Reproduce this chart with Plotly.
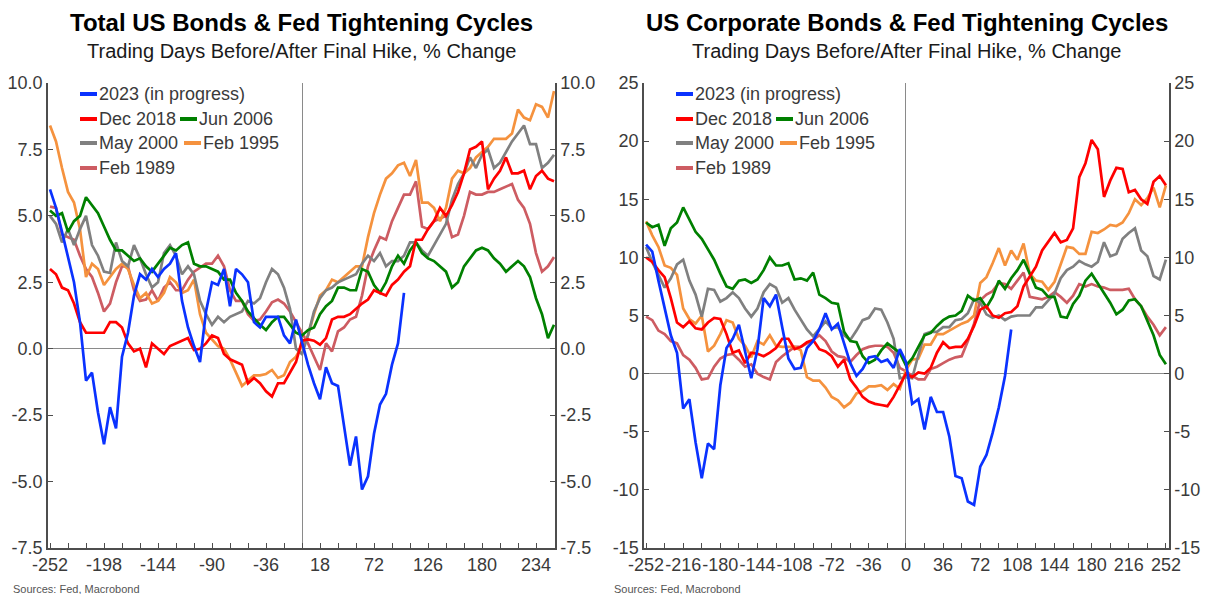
import plotly.graph_objects as go

# ---------------- data ----------------
DAYS = list(range(-252, 253, 6))  # trading days relative to final hike

SERIES_NAMES = ["2023 (in progress)", "Dec 2018", "Jun 2006", "May 2000", "Feb 1995", "Feb 1989"]
SERIES_COLORS = ["#0a32ff", "#ff0000", "#008000", "#808080", "#f5923e", "#cd5c62"]

# Total US Bonds, % change
TOTAL_2023 = [6.0, 5.3, 4.4, 3.4, 2.5, 1.0, -1.2, -0.9, -2.4, -3.6, -2.2, -3.0, -0.3, 0.6, 2.0, 2.8, 2.6, 3.0, 2.7, 3.0,
              3.2, 3.6, 1.8, 0.8, 0.1, -0.5, 1.4, 2.5, 2.4, 3.0, 1.6, 3.0, 2.8, 2.5, 1.0, 0.8, 1.2, 1.2, 1.2, 0.5,
              0.2, 1.1, 0.2, -0.6, -1.3, -1.9, -0.7, -1.3, -1.4, -2.9, -4.4, -3.3, -5.3, -4.8, -3.2, -2.1, -1.7, -0.6,
              0.2, 2.1]
TOTAL_2018 = [3.0, 2.8, 2.3, 2.2, 1.7, 1.0, 0.6, 0.6, 0.6, 0.6, 1.0, 1.0, 0.8, 0.2, -0.1, 0.0, -0.7, 0.2, 0.0, -0.2,
              0.1, 0.2, 0.3, 0.4, -0.05, 0.0, 0.2, 0.5, 0.4, -0.2, -0.4, -0.5, -0.6, -1.3, -1.1, -1.3, -1.6, -1.8, -1.3,
              -1.3, -0.9, -0.5, 0.3, 0.35, 0.3, 0.15, 0.4, 1.1, 1.2, 1.2, 1.3, 1.5, 1.7, 1.85, 2.2, 2.1, 2.0, 2.4, 2.6,
              2.9, 3.1, 4.1, 4.1, 4.5, 4.8, 5.3, 5.0, 5.4, 5.9, 6.6, 7.5, 7.6, 7.8, 6.0, 6.4, 6.7, 7.2, 6.6, 6.6, 6.7,
              6.0, 6.5, 6.7, 6.4, 6.3]
TOTAL_2006 = [5.2, 5.0, 5.1, 4.4, 4.8, 5.0, 5.7, 5.4, 5.1, 4.6, 4.1, 3.7, 3.7, 3.5, 3.3, 3.4, 3.1, 2.9, 3.2, 3.5,
              3.8, 3.7, 3.9, 4.0, 3.2, 3.1, 3.1, 3.0, 2.9, 2.6, 2.6, 2.1, 1.8, 1.4, 1.15, 0.9, 0.7, 1.0, 1.2, 1.2,
              0.9, 0.6, 0.5, 0.7, 0.8, 1.3, 1.6, 1.8, 2.3, 2.3, 2.2, 2.2, 3.0, 2.9, 2.4, 2.1, 2.5, 3.1, 3.5, 3.2,
              3.7, 4.0, 3.6, 3.4, 3.3, 3.1, 2.9, 2.3, 2.5, 3.1, 3.4, 3.7, 3.8, 3.7, 3.4, 3.2, 2.9, 3.1, 3.3, 3.1,
              2.7, 1.9, 1.3, 0.4, 0.9]
TOTAL_2000 = [5.0, 4.7, 4.0, 4.5, 3.9, 4.5, 5.0, 3.9, 3.5, 2.9, 2.85, 4.0, 3.3, 3.1, 3.9, 3.4, 2.8, 2.3, 2.5, 3.6,
              3.9, 3.5, 2.8, 3.1, 2.8, 1.8, 1.3, 0.9, 1.2, 1.0, 1.2, 1.3, 1.4, 1.8, 1.7, 1.9, 2.5, 3.0, 2.8, 2.3,
              1.5, 0.0, -0.2, 0.5, 1.4, 1.9, 2.2, 2.3, 2.5, 2.6, 2.7, 2.8, 3.2, 3.5, 3.3, 3.6, 3.1, 3.3, 3.3, 3.5,
              4.0, 4.0, 3.7, 3.5, 3.9, 4.3, 4.7, 5.6, 6.2, 6.6, 7.2, 6.8, 7.3, 7.5, 6.8, 7.0, 7.4, 7.8, 8.1, 8.4,
              7.7, 7.7, 6.8, 7.0, 7.3]
TOTAL_1995 = [8.4, 7.8, 6.8, 5.9, 5.5, 4.5, 2.7, 3.2, 3.0, 2.4, 2.7, 3.0, 3.2, 3.0, 2.4, 1.9, 2.1, 1.7, 1.8, 2.1,
              2.7, 2.5, 2.1, 2.2, 2.6, 1.3, 0.6, 0.35, 0.1, 0.0, -0.4, -0.9, -1.4, -1.2, -1.0, -1.0, -0.95, -0.8, -1.1,
              -1.0, -0.5, -0.3, 0.1, 0.5, 1.3, 2.0, 2.2, 2.6, 2.5, 2.7, 2.9, 3.1, 3.1, 4.2, 5.1, 5.8, 6.4, 6.6, 6.9,
              7.0, 6.5, 7.1, 5.5, 5.5, 5.3, 4.8, 5.3, 6.4, 6.7, 6.6, 6.8, 7.2, 7.4, 7.6, 7.9, 7.9, 7.9, 8.1, 9.0,
              8.7, 8.6, 9.2, 9.1, 8.7, 9.7]
TOTAL_1989 = [5.35, 5.3, 4.3, 4.2, 4.1, 3.5, 3.0, 2.7, 2.1, 1.4, 1.7, 2.5, 3.1, 3.1, 2.2, 1.8, 1.85, 2.2, 1.8, 2.3,
              2.5, 2.2, 2.2, 2.6, 2.9, 3.05, 3.2, 3.2, 3.5, 3.1, 2.2, 1.8, 1.8, 1.3, 1.05, 1.1, 1.4, 1.75, 1.85, 1.7,
              1.4, 1.0, 0.6, 0.2, -0.3, -0.8, 0.2, -0.1, 0.65, 0.8, 1.1, 1.2, 2.0, 3.1, 3.7, 4.2, 4.1, 4.8, 5.3, 5.8,
              5.8, 6.3, 4.6, 4.5, 4.8, 4.9, 5.0, 4.2, 4.3, 5.0, 5.9, 5.8, 5.8, 5.9, 5.9, 6.0, 6.1, 6.2, 5.6, 5.3,
              4.7, 3.6, 2.9, 3.1, 3.45]

# US Corporate Bonds, % change
CORP_2023 = [11.1, 10.5, 8.0, 5.6, 3.3, 1.8, -3.0, -2.2, -5.9, -9.0, -6.0, -6.5, -1.0, 2.2, 3.0, 4.2, 2.0, -0.4, 2.1, 6.5,
             5.8, 6.8, 4.0, 1.3, 0.4, 0.5, 2.2, 2.8, 3.8, 5.2, 3.8, 4.3, 2.6, 0.9, -0.2, 0.4, 1.4, 1.5, 1.0, 1.2,
             0.5, 2.1, 1.0, -2.6, -2.2, -4.8, -2.0, -3.3, -3.3, -5.4, -8.8, -9.0, -11.0, -11.3, -8.0, -7.0, -5.1, -2.9,
             -0.2, 3.8]
CORP_2018 = [10.0, 9.6, 8.9, 8.3, 6.5, 4.4, 4.0, 4.5, 3.9, 3.8, 4.4, 4.8, 4.7, 3.4, 1.8, 2.0, 0.9, 1.8, 1.7, 1.5,
             1.8, 2.2, 3.0, 3.0, 2.1, 2.3, 2.7, 2.9, 2.1, 1.9, 1.5, 0.6, 1.2, -0.5, -1.2, -2.0, -2.4, -2.6, -2.7, -2.8,
             -2.0, -1.0, 0.0, -0.3, 0.1, 0.0, 0.5, 1.8, 2.7, 2.2, 2.3, 2.3, 3.0, 4.1, 5.5, 5.8, 5.0, 4.8, 5.2, 5.3,
             5.8, 7.5, 8.4, 9.2, 10.6, 11.3, 12.1, 11.3, 11.5, 12.5, 16.9, 18.1, 20.1, 19.3, 15.2, 16.6, 17.7, 17.6,
             15.6, 15.8, 15.0, 14.6, 16.5, 17.0, 16.2]
CORP_2006 = [13.0, 12.6, 12.8, 11.0, 12.5, 13.0, 14.3, 13.2, 12.2, 11.6, 10.7, 9.8, 8.6, 7.5, 7.3, 8.0, 8.1, 7.8, 8.1, 8.9,
             10.0, 9.3, 9.3, 9.5, 8.1, 8.2, 8.0, 8.7, 6.8, 6.5, 6.1, 6.0, 3.6, 2.8, 2.7, 1.5, 0.9, 1.2, 2.0, 2.6,
             2.2, 1.8, 0.7, 1.3, 2.3, 3.3, 3.5, 4.1, 4.6, 4.9, 5.0, 5.4, 6.7, 6.3, 6.5, 5.7, 6.6, 8.0, 7.3, 8.2,
             8.9, 9.8, 8.6, 7.4, 7.2, 6.6, 6.6, 4.9, 4.8, 6.0, 6.7, 8.0, 8.6, 7.8, 7.0, 6.1, 5.1, 5.5, 6.3, 6.4,
             5.8, 4.6, 3.3, 1.6, 0.8]
CORP_2000 = [10.9, 9.6, 8.5, 7.4, 8.2, 9.4, 9.8, 8.0, 6.8, 4.9, 7.3, 7.2, 6.2, 6.5, 7.0, 6.5, 5.6, 4.9, 5.6, 7.0,
             7.7, 7.4, 6.1, 6.5, 5.5, 4.7, 3.8, 3.2, 3.9, 4.5, 3.9, 4.0, 3.3, 2.9, 3.7, 4.6, 4.8, 5.6, 5.5, 4.4,
             3.0, -0.4, -0.3, -0.4, 1.6, 3.4, 3.6, 3.6, 4.0, 4.0, 4.6, 4.7, 5.2, 6.4, 6.1, 5.1, 4.8, 5.0, 4.6, 4.9,
             5.0, 5.0, 5.0, 5.7, 5.7, 6.3, 6.9, 8.2, 8.9, 9.2, 9.7, 9.4, 9.2, 9.6, 11.3, 10.1, 10.3, 11.6, 12.1, 12.5,
             10.6, 10.1, 8.4, 8.1, 9.8]
CORP_1995 = [13.1, 11.9, 10.9, 9.3, 9.1, 8.5, 5.6, 4.7, 4.3, 5.0, 1.9, 2.4, 3.4, 4.6, 4.4, 3.0, 2.4, 1.4, 2.8, 2.5,
             3.3, 2.4, 2.3, 2.3, 2.3, 2.0, -0.3, -0.6, -0.6, -1.2, -2.0, -2.3, -2.9, -2.5, -1.7, -1.5, -1.1, -1.1, -1.0,
             -1.4, -0.9, -1.3, 0.3, 1.2, 1.3, 2.5, 2.5, 3.4, 3.4, 3.7, 4.0, 4.3, 4.5, 5.0, 7.8, 8.3, 9.5, 10.8, 9.3,
             10.6, 9.8, 11.2, 8.6, 8.0, 7.9, 7.2, 7.9, 9.5, 10.9, 10.8, 10.3, 10.3, 12.2, 12.1, 12.4, 12.8, 12.7, 13.0,
             13.8, 15.0, 14.5, 15.1, 16.0, 14.3, 16.2]
CORP_1989 = [4.9, 4.6, 3.7, 3.4, 2.8, 2.6, 1.6, 1.2, 0.5, -0.5, -0.4, 0.6, 1.3, 1.6, 1.7, 1.2, 0.6, 0.8, 0.0, -0.3,
             -0.5, 1.0, 1.5, 1.9, 2.3, 2.3, 2.6, 2.9, 3.3, 2.8, 1.9, 1.5, 1.4, 1.0, 1.6, 2.1, 2.3, 2.4, 2.4, 2.3,
             1.8, 0.5, 0.2, -0.2, -0.5, -0.5, 0.4, 0.6, 0.9, 1.2, 1.4, 1.5, 2.8, 4.3, 6.3, 6.8, 7.1, 7.8, 7.7, 7.3,
             8.0, 8.7, 6.6, 6.5, 6.4, 6.6, 7.0, 6.6, 6.1, 6.7, 7.7, 7.5, 7.7, 7.5, 7.4, 7.2, 7.2, 7.2, 7.3, 6.4,
             5.8, 4.9, 4.2, 3.3, 4.0]

TOTAL_SERIES = [TOTAL_2023, TOTAL_2018, TOTAL_2006, TOTAL_2000, TOTAL_1995, TOTAL_1989]
CORP_SERIES = [CORP_2023, CORP_2018, CORP_2006, CORP_2000, CORP_1995, CORP_1989]

# axis ticks / labels
LEFT_X_TICKS = [-252, -198, -144, -90, -36, 18, 72, 126, 180, 234]
LEFT_X_LABELS = ["-252", "-198", "-144", "-90", "-36", "18", "72", "126", "180", "234"]
RIGHT_X_TICKS = [-252, -216, -180, -144, -108, -72, -36, 0, 36, 72, 108, 144, 180, 216, 252]
RIGHT_X_LABELS = ["-252", "-216", "-180", "-144", "-108", "-72", "-36", "0", "36", "72", "108", "144", "180", "216", "252"]
MINOR_X_TICKS = list(range(-252, 253, 18))
LEFT_Y_TICKS = [-7.5, -5.0, -2.5, 0.0, 2.5, 5.0, 7.5, 10.0]
LEFT_Y_LABELS = ["-7.5", "-5.0", "-2.5", "0.0", "2.5", "5.0", "7.5", "10.0"]
RIGHT_Y_TICKS = [-15, -10, -5, 0, 5, 10, 15, 20, 25]
RIGHT_Y_LABELS = ["-15", "-10", "-5", "0", "5", "10", "15", "20", "25"]

TITLES = ["Total US Bonds & Fed Tightening Cycles", "US Corporate Bonds & Fed Tightening Cycles"]
SUBTITLE = "Trading Days Before/After Final Hike, % Change"
SOURCE = "Sources: Fed, Macrobond"

# ---------------- layout helpers ----------------
W, H = 1207, 594
FONT = "Liberation Sans, Arial, sans-serif"
AXC = "#4d4d4d"
TXT = "#3a3a3a"


def px(x):
    return x / W


def py(y):
    return 1 - y / H


PLOT_TOP, PLOT_BOT = 83, 548
PANELS = [
    dict(left=48, right=555, xa="x", ya="y", yr="y3", xrange=[-254, 253], yrange=[-7.5, 10],
         xt=LEFT_X_TICKS, xl=LEFT_X_LABELS, yt=LEFT_Y_TICKS, yl=LEFT_Y_LABELS, data=TOTAL_SERIES),
    dict(left=644, right=1169, xa="x2", ya="y2", yr="y4", xrange=[-254, 255], yrange=[-15, 25],
         xt=RIGHT_X_TICKS, xl=RIGHT_X_LABELS, yt=RIGHT_Y_TICKS, yl=RIGHT_Y_LABELS, data=CORP_SERIES),
]

fig = go.Figure()
shapes = []
annotations = []

for p_i, P in enumerate(PANELS):
    # draw older cycles first, 2023 on top
    for s_i in reversed(range(len(SERIES_NAMES))):
        vals = P["data"][s_i]
        fig.add_trace(go.Scatter(
            x=DAYS[:len(vals)], y=vals, mode="lines", name=SERIES_NAMES[s_i],
            line=dict(color=SERIES_COLORS[s_i], width=2.7), xaxis=P["xa"], yaxis=P["ya"],
            showlegend=False, hoverinfo="x+y+name"))
    # invisible anchor trace for right-hand axis
    fig.add_trace(go.Scatter(x=[0], y=[0], mode="markers", marker=dict(opacity=0), xaxis=P["xa"],
                             yaxis=P["yr"], showlegend=False, hoverinfo="skip"))

    xdom = [px(P["left"]), px(P["right"])]
    ydom = [py(PLOT_BOT), py(PLOT_TOP)]
    xkey = "xaxis" if P["xa"] == "x" else "xaxis2"
    ykey = "yaxis" if P["ya"] == "y" else "yaxis2"
    yrkey = "yaxis3" if P["yr"] == "y3" else "yaxis4"
    tickfont = dict(family=FONT, size=18, color=TXT)
    fig.update_layout(**{
        xkey: dict(domain=xdom, range=P["xrange"], anchor=P["ya"], tickmode="array", tickvals=P["xt"],
                   ticktext=P["xl"], tickangle=0, ticks="inside", ticklen=5, tickcolor=AXC, tickwidth=1,
                   showline=True, linecolor=AXC, linewidth=1.5, showgrid=False, zeroline=True,
                   zerolinecolor="#8a8a8a", zerolinewidth=1, tickfont=tickfont, automargin=False,
                   minor=dict(tickmode="array", tickvals=MINOR_X_TICKS, ticks="inside", ticklen=5,
                              tickcolor=AXC, tickwidth=1, showgrid=False)),
        ykey: dict(domain=ydom, range=P["yrange"], anchor=P["xa"], tickmode="array", tickvals=P["yt"],
                   ticktext=P["yl"], ticks="inside", ticklen=5, tickcolor=AXC, tickwidth=1,
                   showline=True, linecolor=AXC, linewidth=1.5, showgrid=False, zeroline=True,
                   zerolinecolor="#8a8a8a", zerolinewidth=1, tickfont=tickfont, automargin=False),
        yrkey: dict(overlaying=P["ya"], side="right", anchor=P["xa"], range=P["yrange"], tickmode="array",
                    tickvals=P["yt"], ticktext=P["yl"], ticks="inside", ticklen=5, tickcolor=AXC,
                    tickwidth=1, showline=True, linecolor=AXC, linewidth=1.5, showgrid=False,
                    zeroline=False, tickfont=tickfont, automargin=False),
    })

    cx = (P["left"] + P["right"]) / 2
    annotations.append(dict(x=px(cx), y=py(23), xref="paper", yref="paper", xanchor="center",
                            yanchor="middle", showarrow=False, text="<b>" + TITLES[p_i] + "</b>",
                            font=dict(family=FONT, size=24, color="#000000")))
    annotations.append(dict(x=px(cx), y=py(51), xref="paper", yref="paper", xanchor="center",
                            yanchor="middle", showarrow=False, text=SUBTITLE,
                            font=dict(family=FONT, size=20, color="#1a1a1a")))
    annotations.append(dict(x=px(P["left"] - 37 + (0 if p_i == 0 else 5)), y=py(589), xref="paper",
                            yref="paper", xanchor="left", yanchor="middle", showarrow=False, text=SOURCE,
                            font=dict(family=FONT, size=11, color="#555555")))

    # legend (manual, laid out as in the original: 1 / 2 / 2 / 1 entries per row)
    L = P["left"]
    rows = [(94, [(0, L + 32)]), (119, [(1, L + 32), (2, L + 132)]),
            (143, [(3, L + 32), (4, L + 136)]), (168, [(5, L + 32)])]
    for ry, items in rows:
        for s_i, sx in items:
            shapes.append(dict(type="line", xref="paper", yref="paper", x0=px(sx), x1=px(sx + 17),
                               y0=py(ry), y1=py(ry), line=dict(color=SERIES_COLORS[s_i], width=4)))
            annotations.append(dict(x=px(sx + 17), y=py(ry), xref="paper", yref="paper",
                                    xanchor="left", yanchor="middle", showarrow=False,
                                    text=SERIES_NAMES[s_i], font=dict(family=FONT, size=18, color=TXT)))

fig.update_layout(template="none", width=W, height=H, margin=dict(l=0, r=0, t=0, b=0, pad=0),
                  paper_bgcolor="white", plot_bgcolor="white", showlegend=False, shapes=shapes,
                  annotations=annotations, font=dict(family=FONT))

fig.write_html("out.html", config=dict(displayModeBar=False),
               post_script="document.body.style.margin='0px';document.body.style.padding='0px';"
                           "document.body.style.overflow='hidden';")
